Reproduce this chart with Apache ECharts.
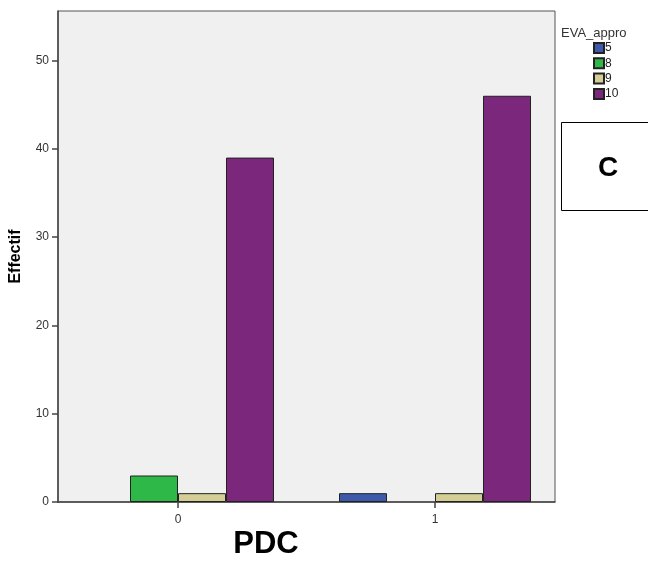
<!DOCTYPE html>
<html><head><meta charset="utf-8">
<script src="https://cdn.jsdelivr.net/npm/echarts@6/dist/echarts.min.js"></script>
<style>html,body{margin:0;padding:0;background:#fff}#c{width:648px;height:562px}</style>
</head><body><div id="c"></div>
<script>
const categories = ['0', '1'];
const seriesNames = ['5', '8', '9', '10'];
const values5 = [null, 1];
const values8 = [3, null];
const values9 = [1, 1];
const values10 = [39, 46];
const yTicks = [0, 10, 20, 30, 40, 50];
const colors = ['#3E58AC', '#2EB848', '#D4CE96', '#7B287C'];
const allValues = [values5, values8, values9, values10];

const FONT = '"Liberation Sans", Arial, sans-serif';
const YMAX = 55.6;
const chart = echarts.init(document.getElementById('c'));
chart.setOption({
  animation: false,
  grid: [
    {left: 58, right: 93, top: 11, bottom: 60, show: true, backgroundColor: '#F0F0F0', borderColor: '#555', borderWidth: 1},
    {left: 49.5, right: 84.5, top: 11, bottom: 60}
  ],
  xAxis: [
    {type: 'category', gridIndex: 0, data: categories, axisLine: {show: true, lineStyle: {color: '#444', width: 1.5}}, axisTick: {show: false}, axisLabel: {show: false}},
    {type: 'category', gridIndex: 1, data: categories, axisLine: {show: false}, axisTick: {show: true, alignWithLabel: true, length: 6, lineStyle: {color: '#444', width: 1.5}},
     axisLabel: {color: '#333', fontSize: 12, fontFamily: FONT, margin: 12}, splitLine: {show: false}}
  ],
  yAxis: [
    {type: 'value', gridIndex: 0, min: 0, max: YMAX, interval: 10,
     axisLine: {show: true, lineStyle: {color: '#444', width: 1.5}},
     axisTick: {show: true, length: 6, customValues: yTicks, lineStyle: {color: '#444', width: 1.5}},
     axisLabel: {color: '#333', fontSize: 12, fontFamily: FONT, margin: 9, customValues: yTicks},
     splitLine: {show: false},
     name: 'Effectif', nameLocation: 'middle', nameRotate: 90, nameGap: 34,
     nameTextStyle: {fontSize: 16, fontWeight: 'bold', color: '#000', fontFamily: FONT}},
    {type: 'value', gridIndex: 1, min: 0, max: YMAX, show: false, splitLine: {show: false}}
  ],
  legend: {
    orient: 'vertical', left: 588, top: 37, itemWidth: 10, itemHeight: 10, itemGap: 3.3,
    icon: 'rect', data: seriesNames,
    textStyle: {fontSize: 12, lineHeight: 12, color: '#222', fontFamily: FONT, padding: [0, 0, 0, -4]}
  },
  series: seriesNames.map((n, i) => ({
    name: n, type: 'bar', xAxisIndex: 1, yAxisIndex: 1, data: allValues[i],
    barWidth: 48, barGap: '0%',
    itemStyle: {color: colors[i], borderColor: '#222', borderWidth: 1}
  })),
  graphic: [
    {type: 'text', left: 561, top: 27, style: {text: 'EVA_appro', fontSize: 13, fill: '#333', font: '13px ' + FONT}},
    {type: 'rect', shape: {x: 561.5, y: 122.5, width: 100, height: 88}, style: {fill: '#fff', stroke: '#000', lineWidth: 1}},
    {type: 'text', x: 608, y: 168, style: {text: 'C', font: 'bold 28px ' + FONT, fill: '#000', textAlign: 'center', textVerticalAlign: 'middle'}},
    {type: 'text', x: 266, y: 544, style: {text: 'PDC', font: 'bold 31px ' + FONT, fill: '#000', textAlign: 'center', textVerticalAlign: 'middle'}}
  ]
});
</script></body></html>
